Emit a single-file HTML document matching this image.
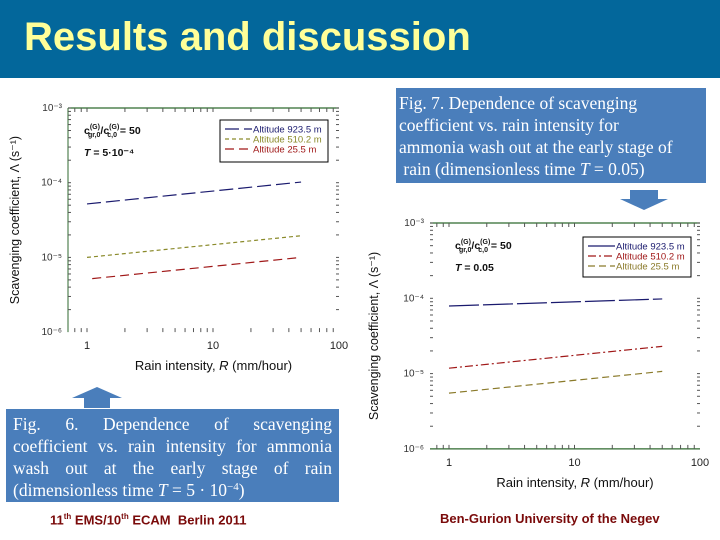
<!DOCTYPE html>
<html><head><meta charset="utf-8">
<style>
body{margin:0;width:720px;height:540px;overflow:hidden;background:#fff;font-family:"Liberation Sans",sans-serif;position:relative}
.hdr{position:absolute;left:0;top:0;width:720px;height:78px;background:#03679b}
.title{position:absolute;left:24px;top:15px;font-size:40px;font-weight:bold;color:#ffff99;white-space:nowrap}
.box{position:absolute;background:#4a7ebb;color:#fff;font-family:"Liberation Serif",serif;font-size:17.5px;line-height:22px;white-space:nowrap;overflow:hidden}
.box sup{line-height:0;font-size:11px;vertical-align:6px}
.jl{text-align:justify;text-align-last:justify}
.foot{position:absolute;font-size:13px;font-weight:bold;color:#7a0a0a}
svg{position:absolute;left:0;top:0}
</style></head><body>
<div class="hdr"></div>
<div class="title">Results and discussion</div>
<svg id="chart" width="720" height="540"></svg>
<div class="box" style="left:396px;top:88px;width:310px;height:95px;padding:4px 0 0 3px;box-sizing:border-box">Fig. 7. Dependence of scavenging<br>coefficient vs. rain intensity for<br>ammonia wash out at the early stage of<br>&nbsp;rain (dimensionless time <i>T</i> = 0.05)</div>
<div class="box" style="left:6px;top:409px;width:333px;height:93px;padding:4px 7px 0 7px;box-sizing:border-box"><div class="jl">Fig. 6. Dependence of scavenging</div><div class="jl">coefficient vs. rain intensity for ammonia</div><div class="jl">wash out at the early stage of rain</div><div>(dimensionless time <i>T</i> = 5 · 10<sup>−4</sup>)</div></div>
<div class="foot" style="left:50px;top:512px">11<sup style="font-size:8px">th</sup> EMS/10<sup style="font-size:8px">th</sup> ECAM &nbsp;Berlin 2011</div>
<div class="foot" style="left:440px;top:511px">Ben-Gurion University of the Negev</div>
<script>
const rain = [1, 50];
const leftBlue = [5.2e-5, 1.02e-4];
const leftOlive = [1.0e-5, 1.95e-5];
const leftRed = [5.2e-6, 1.0e-5];
const rightBlue = [7.9e-5, 9.8e-5];
const rightRed = [1.18e-5, 2.3e-5];
const rightOlive = [5.5e-6, 1.07e-5];
const yTicks = ["10⁻³","10⁻⁴","10⁻⁵","10⁻⁶"];
const xTicks = ["1","10","100"];
const NS="http://www.w3.org/2000/svg";
const svg=document.getElementById('chart');
function mk(t,a,p){const e=document.createElementNS(NS,t);for(const k in a)e.setAttribute(k,a[k]);(p||svg).appendChild(e);return e;}
function chart(cfg){
  const g=mk('g',{});
  
  
  const X=v=>cfg.x1+(Math.log10(v))*cfg.dx;
  const Y=v=>cfg.yTop+(-3-Math.log10(v))*cfg.dy;
  const L=cfg.L,R=cfg.R,T=cfg.yTop,B=cfg.yTop+3*cfg.dy;
  if(cfg.leftLine) mk('line',{x1:L,y1:T,x2:L,y2:B,stroke:'#2f6a2f','stroke-width':1},g);
  mk('line',{x1:L,y1:T,x2:R,y2:T,stroke:'#2f6a2f','stroke-width':1.3},g);
  if(cfg.bottomLine) mk('line',{x1:L,y1:B,x2:R,y2:B,stroke:'#2f6a2f','stroke-width':1.3},g);
  for(let d=0;d<3;d++)for(let m=2;m<=10;m++){const y=Y(Math.pow(10,-6+d)*m);
    if(y>=T&&y<=B){mk('line',{x1:L,y1:y,x2:L+3,y2:y,stroke:'#555'},g);mk('line',{x1:R-3,y1:y,x2:R,y2:y,stroke:'#555'},g);}}
  for(let d=-1;d<2;d++)for(let m=1;m<10;m++){const x=X(Math.pow(10,d)*m);if(x>=L&&x<=R){mk('line',{x1:x,y1:B,x2:x,y2:B-4,stroke:'#555'},g);mk('line',{x1:x,y1:T,x2:x,y2:T+4,stroke:'#555'},g);}}
  yTicks.forEach((t,i)=>{const e=mk('text',{x:L-6,y:Y(Math.pow(10,-3-i))+3,'text-anchor':'end','font-size':10,fill:'#333'},g);e.textContent=t;
    });
  xTicks.forEach((t,i)=>{const e=mk('text',{x:X(Math.pow(10,i)),y:B+17,'text-anchor':'middle','font-size':11,fill:'#222'},g);e.textContent=t;
    });
  const xt=mk('text',{x:(L+R)/2+10,y:B+38,'text-anchor':'middle','font-size':13,fill:'#111'},g);
  xt.innerHTML='Rain intensity, <tspan font-style="italic">R</tspan> (mm/hour)';
  
  const yt=mk('text',{x:0,y:0,'text-anchor':'middle','font-size':12.5,fill:'#111',transform:`translate(${cfg.ytx},${(T+B)/2}) rotate(-90)`},g);
  yt.textContent='Scavenging coefficient, \u039B (s\u207B\u00B9)';
  
  cfg.series.forEach(s=>{
    const p=mk('polyline',{points:rain.map((r,i)=>X(i===0?s.x0:r)+','+Y(s.v[i])).join(' '),fill:'none',stroke:s.c,'stroke-width':1.2,'stroke-dasharray':s.d},g);
    
  });
  const lg=mk('g',{},g);
  mk('rect',{x:cfg.lx,y:cfg.ly,width:108,height:cfg.lh,fill:'#fff',stroke:'#000','stroke-width':1},lg);
  cfg.series.forEach((s,i)=>{const y=cfg.ly+9+i*10;
    mk('line',{x1:cfg.lx+5,y1:y,x2:cfg.lx+32,y2:y,stroke:s.c,'stroke-width':1.2,'stroke-dasharray':s.d},lg);
    const e=mk('text',{x:cfg.lx+33,y:y+3.5,'font-size':9.5,fill:s.c},lg);e.textContent=s.label;
    });
  const a1=mk('text',{x:cfg.ax,y:T+26,'font-size':10.5,'font-weight':'bold',fill:'#111'},g);
  a1.innerHTML='c<tspan dy="-5" font-size="7">(G)</tspan><tspan dy="8" font-size="7" dx="-12">gr,0</tspan><tspan dy="-3">/c</tspan><tspan dy="-5" font-size="7">(G)</tspan><tspan dy="8" font-size="7" dx="-12">c,0</tspan><tspan dy="-3"> = 50</tspan>';
  const a2=mk('text',{x:cfg.ax,y:T+48,'font-size':10.5,'font-weight':'bold',fill:'#111'},g);
  a2.innerHTML='<tspan font-style="italic">T</tspan> = '+cfg.tlabel;
}
chart({name:'fig6-chart',L:68,R:339,yTop:108,dy:74.7,x1:87,dx:126,leftLine:true,bottomLine:false,ytx:19,lx:220,ly:120,lh:42,ax:84,tlabel:'5·10⁻⁴',
  series:[{n:'left-series-923m',v:leftBlue,x0:1,c:'#1a1a6e',d:'14 5',label:'Altitude 923.5 m'},
          {n:'left-series-510m',v:leftOlive,x0:1,c:'#8a8a2a',d:'4 3',label:'Altitude 510.2 m'},
          {n:'left-series-25m',v:leftRed,x0:1.1,c:'#a01818',d:'9 5',label:'Altitude 25.5 m'}]});
chart({name:'fig7-chart',L:430,R:700,yTop:223,dy:75.3,x1:449,dx:125.5,leftLine:false,bottomLine:true,ytx:378,lx:583,ly:237,lh:40,ax:455,tlabel:'0.05',
  series:[{n:'right-series-923m',v:rightBlue,x0:1,c:'#1a1a6e',d:'30 4',label:'Altitude 923.5 m'},
          {n:'right-series-510m',v:rightRed,x0:1,c:'#a01818',d:'8 3 2 3',label:'Altitude 510.2 m'},
          {n:'right-series-25m',v:rightOlive,x0:1,c:'#8a7a2a',d:'7 4',label:'Altitude 25.5 m'}]});
const up=mk('polygon',{points:'72,398 97,387 122,398 110,398 110,408 84,408 84,398',fill:'#4a7ebb'});

const dn=mk('polygon',{points:'630,190 658,190 658,199 668,199 644,210 620,199 630,199',fill:'#4a7ebb'});

</script>
</body></html>
